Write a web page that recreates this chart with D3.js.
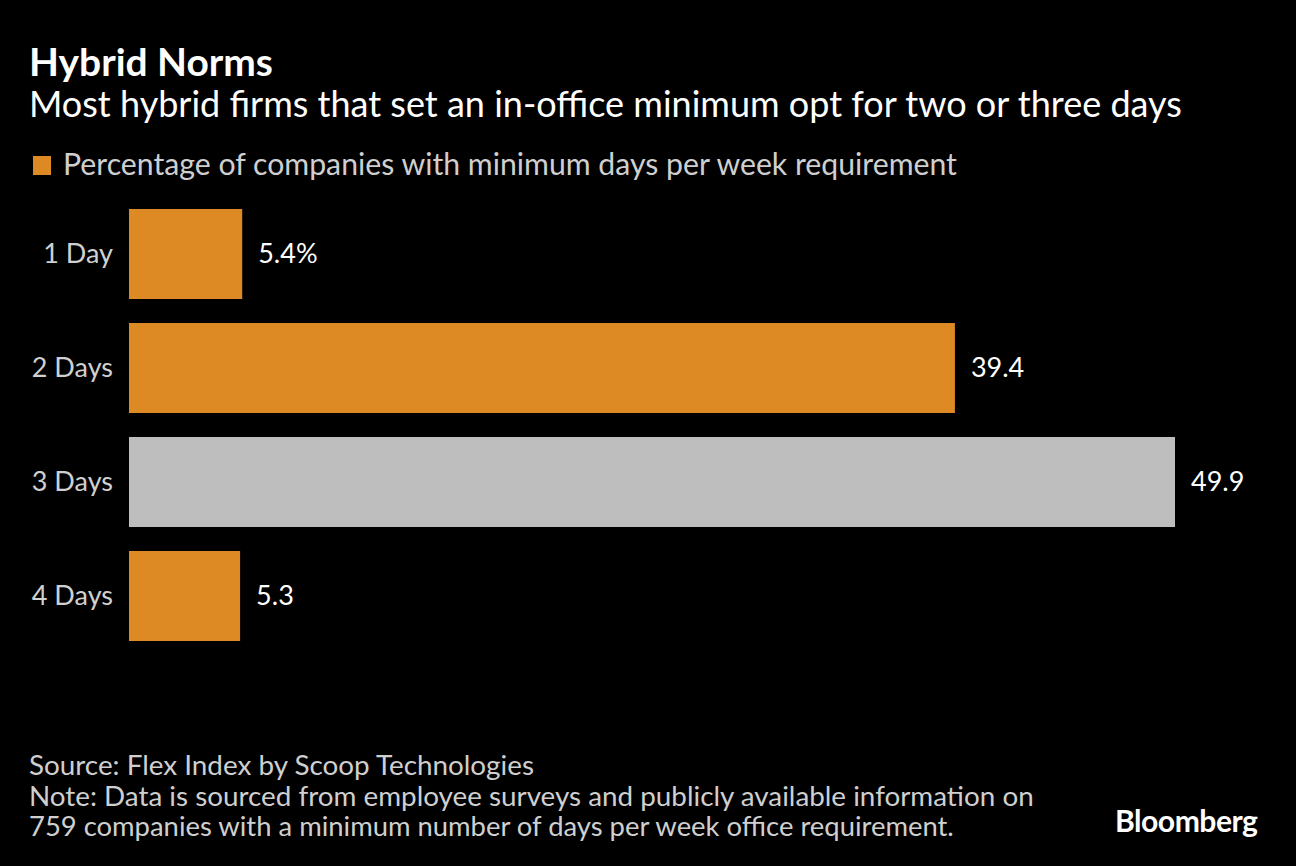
<!DOCTYPE html>
<html><head><meta charset="utf-8">
<script src="https://cdn.jsdelivr.net/npm/d3@7"></script>
<style>
html,body{margin:0;padding:0;background:#000;}
svg{display:block;}
text{font-family:"Source Sans Pro",Lato,"Noto Sans",sans-serif;}
</style></head>
<body>
<svg id="chart" width="1296" height="866"></svg>
<script>
const categories = ["1 Day","2 Days","3 Days","4 Days"];
const values = [5.4, 39.4, 49.9, 5.3];
const valueLabels = ["5.4%","39.4","49.9","5.3"];
const highlight = [false,false,true,false];
const title = "Hybrid Norms";
const subtitle = "Most hybrid firms that set an in-office minimum opt for two or three days";
const legendLabel = "Percentage of companies with minimum days per week requirement";
const footer = ["Source: Flex Index by Scoop Technologies",
  "Note: Data is sourced from employee surveys and publicly available information on",
  "759 companies with a minimum number of days per week office requirement."];

const svg = d3.select("#chart");
svg.append("rect").attr("width",1296).attr("height",866).attr("fill","#000");

const orange = "#DD8A25", grey = "#BEBEBE";

function fit(sel, target){
  const n = sel.node();
  const w = n.getComputedTextLength();
  const fs = parseFloat(sel.attr("font-size"));
  sel.attr("font-size", fs * target / w);
}

fit(svg.append("text").attr("x",29).attr("y",76).attr("fill","#fff")
  .attr("font-weight","bold").attr("font-size",34).text(title), 244);
fit(svg.append("text").attr("x",29).attr("y",117).attr("fill","#fff")
  .attr("font-size",31).text(subtitle), 1153);

svg.append("rect").attr("x",33).attr("y",156).attr("width",18).attr("height",19).attr("fill",orange);
fit(svg.append("text").attr("x",63).attr("y",175).attr("fill","#cfcfcf")
  .attr("font-size",26).text(legendLabel), 894);

const x = d3.scaleLinear().domain([0, 49.9]).range([129, 1175]);
const y = d3.scaleBand().domain(categories).range([209, 665]).paddingInner(24/114).paddingOuter(0).align(0);
// step 114, bandwidth 90
const yb = d3.scaleBand().domain(categories).range([209, 209+114*4-24]).paddingInner(24/114).paddingOuter(0);

const g = svg.append("g");
g.selectAll("rect.bar").data(categories).join("rect")
  .attr("class","bar")
  .attr("x", x(0))
  .attr("y", d => yb(d))
  .attr("width", (d,i) => x(values[i]) - x(0))
  .attr("height", yb.bandwidth())
  .attr("fill", (d,i) => highlight[i] ? grey : orange);

g.selectAll("text.val").data(categories).join("text")
  .attr("class","val")
  .attr("x", (d,i) => x(values[i]) + 16)
  .attr("y", d => yb(d) + yb.bandwidth()/2)
  .attr("dy","0.35em")
  .attr("fill","#fff").attr("font-size",27)
  .text((d,i) => valueLabels[i]);

const yAxis = d3.axisLeft(yb).tickSize(0).tickPadding(16);
const ax = svg.append("g").attr("transform",`translate(${x(0)},0)`).call(yAxis);
ax.select(".domain").remove();
ax.selectAll("text").attr("fill","#d0d0d0").attr("font-size",27)
  .attr("font-family",'"Source Sans Pro",Lato,"Noto Sans",sans-serif');

const fw = [505, 1005, 925];
footer.forEach((t,i) => {
  fit(svg.append("text").attr("x",29).attr("y",775+i*30.5).attr("fill","#cfcfcf")
    .attr("font-size",25).text(t), fw[i]);
});
fit(svg.append("text").attr("x",1115).attr("y",832).attr("fill","#fff")
  .attr("font-weight","bold").attr("font-size",27).attr("letter-spacing",-0.5).text("Bloomberg"), 142);
</script>
</body></html>
